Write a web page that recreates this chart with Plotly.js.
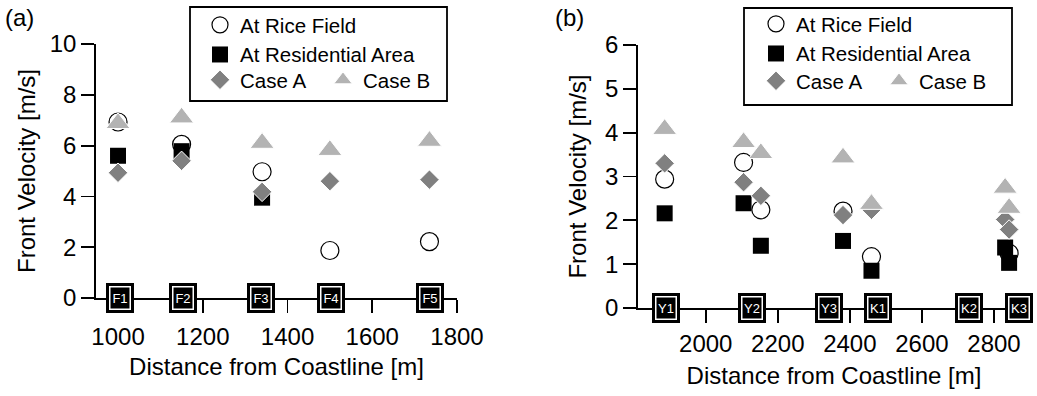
<!DOCTYPE html>
<html><head><meta charset="utf-8">
<script src="https://cdn.plot.ly/plotly-3.0.1.min.js"></script>
<style>html,body{margin:0;padding:0;background:#fff}#chart{width:1037px;height:396px}</style>
</head><body><div id="chart"></div>
<script>
// ---- Panel (a) data ----
const distA   = [1000, 1150, 1340, 1500, 1735];
const riceA   = [6.93, 6.05, 4.97, 1.87, 2.22];
const resA    = [5.60, 5.78, 3.95, null, null];
const caseA_A = [4.93, 5.40, 4.18, 4.60, 4.66];
const caseB_A = [6.88, 7.10, 6.10, 5.82, 6.18];
const siteNamesA = ['F1', 'F2', 'F3', 'F4', 'F5'];
const sitePosA   = [1005, 1153, 1337, 1503, 1737];

// ---- Panel (b) data ----
const distB   = [1886, 2105, 2153, 2381, 2460, 2831, 2842];
const riceB   = [2.94, 3.32, 2.24, 2.21, 1.17, null, 1.25];
const resB    = [2.16, 2.39, 1.42, 1.53, 0.85, 1.38, 1.03];
const caseA_B = [3.30, 2.87, 2.56, 2.12, 2.24, 2.02, 1.79];
const caseB_B = [4.08, 3.78, 3.53, 3.43, 2.37, 2.74, 2.28];
const siteNamesB = ['Y1', 'Y2', 'Y3', 'K1', 'K2', 'K3'];
const sitePosB   = [1890, 2128, 2343, 2477, 2731, 2870];

const FONT = 'Liberation Sans, Arial, Helvetica, sans-serif';

const styles = {
  rice: {symbol: 'circle', color: '#ffffff', line: {color: '#000000', width: 1.2}, size: 18},
  res:  {symbol: 'square', color: '#000000', line: {color: '#000000', width: 0}, size: 16},
  cA:   {symbol: 'diamond', color: '#808080', line: {color: '#ffffff', width: 1}, size: 15},
  cB:   {symbol: 'triangle-up', color: '#b3b3b3', line: {color: '#ffffff', width: 1}, size: 21}
};

function tr(name, x, y, st, xa, ya, leg) {
  return {type: 'scatter', mode: 'markers', name: name, x: x, y: y,
    xaxis: xa, yaxis: ya, legend: leg, marker: st, cliponaxis: false, hoverinfo: 'x+y'};
}

const data = [
  tr('At Rice Field', distA, riceA, styles.rice, 'x', 'y', 'legend'),
  tr('At Residential Area', distA, resA, styles.res, 'x', 'y', 'legend'),
  tr('Case A', distA, caseA_A, styles.cA, 'x', 'y', 'legend2'),
  tr('Case B', distA, caseB_A, styles.cB, 'x', 'y', 'legend2'),
  tr('At Rice Field', distB, riceB, styles.rice, 'x2', 'y2', 'legend3'),
  tr('At Residential Area', distB, resB, styles.res, 'x2', 'y2', 'legend3'),
  tr('Case A', distB, caseA_B, styles.cA, 'x2', 'y2', 'legend4'),
  tr('Case B', distB, caseB_B, styles.cB, 'x2', 'y2', 'legend4')
];

function axis(extra) {
  return Object.assign({
    showline: true, linecolor: '#000', linewidth: 1.8,
    ticks: 'outside', ticklen: 13, tickwidth: 1.8, tickcolor: '#000',
    showgrid: false, zeroline: false, automargin: false,
    tickfont: {family: FONT, size: 24, color: '#000'}
  }, extra);
}

const annotations = [];
function addSites(names, pos, xa, ya) {
  names.forEach((n, i) => {
    annotations.push({x: pos[i], y: 0, xref: xa, yref: ya, text: '\u00a0', showarrow: false,
      width: 24, height: 26, bgcolor: '#000', bordercolor: '#000', borderwidth: 2, borderpad: 0,
      font: {size: 10, color: '#000'}});
    annotations.push({x: pos[i], y: 0, xref: xa, yref: ya, text: n, showarrow: false,
      width: 19, height: 21, bgcolor: '#000', bordercolor: '#fff', borderwidth: 1.5, borderpad: 0,
      font: {family: FONT, size: 13, color: '#fff'}});
  });
}
addSites(siteNamesA, sitePosA, 'x', 'y');
addSites(siteNamesB, sitePosB, 'x2', 'y2');
annotations.push({xref: 'paper', yref: 'paper', x: 3/1037, y: 1 - 2/396, xanchor: 'left', yanchor: 'top',
  text: '(a)', showarrow: false, font: {family: FONT, size: 24, color: '#000'}});
annotations.push({xref: 'paper', yref: 'paper', x: 553/1037, y: 1 - 2/396, xanchor: 'left', yanchor: 'top',
  text: '(b)', showarrow: false, font: {family: FONT, size: 24, color: '#000'}});

const legFont = {family: FONT, size: 20.5, color: '#000'};
function legV(xpx, ypx) {
  return {x: xpx/1037, y: 1 - ypx/396, xanchor: 'left', yanchor: 'top', orientation: 'v',
    bgcolor: 'rgba(0,0,0,0)', borderwidth: 0, font: legFont, tracegroupgap: 0, itemclick: false};
}
function legH(xpx, ypx) {
  return {x: xpx/1037, y: 1 - ypx/396, xanchor: 'left', yanchor: 'top', orientation: 'h',
    entrywidth: 78, entrywidthmode: 'pixels',
    bgcolor: 'rgba(0,0,0,0)', borderwidth: 0, font: legFont, itemclick: false};
}

const layout = {
  width: 1037, height: 396,
  margin: {l: 0, r: 0, t: 0, b: 0},
  paper_bgcolor: '#fff', plot_bgcolor: '#fff',
  font: {family: FONT, color: '#000'},
  showlegend: true,
  xaxis: axis({domain: [96/1037, 457/1037], range: [948, 1800], dtick: 200, tick0: 0, anchor: 'y',
    ticklabelstandoff: 3,
    title: {text: 'Distance from Coastline [m]', font: {family: FONT, size: 24}, standoff: 10}}),
  yaxis: axis({domain: [98/396, 352/396], range: [0, 10], dtick: 2, anchor: 'x',
    title: {text: 'Front Velocity [m/s]', font: {family: FONT, size: 24}, standoff: 7}}),
  xaxis2: axis({domain: [638/1037, 1030/1037], range: [1812, 2900], dtick: 200, tick0: 0, anchor: 'y2',
    ticklabelstandoff: 0,
    title: {text: 'Distance from Coastline [m]', font: {family: FONT, size: 24}, standoff: 12}}),
  yaxis2: axis({domain: [88/396, 351/396], range: [0, 6], dtick: 1, anchor: 'x2',
    title: {text: 'Front Velocity [m/s]', font: {family: FONT, size: 24}, standoff: 12}}),
  legend: legV(200, 5),
  legend2: legH(200, 60),
  legend3: legV(756, 4),
  legend4: legH(756, 61),
  shapes: [
    {type: 'rect', xref: 'paper', yref: 'paper', x0: 190/1037, x1: 447/1037, y0: 1 - 101/396, y1: 1 - 7/396,
      line: {color: '#000', width: 1.8}, fillcolor: 'rgba(0,0,0,0)'},
    {type: 'rect', xref: 'paper', yref: 'paper', x0: 744/1037, x1: 1012/1037, y0: 1 - 105/396, y1: 1 - 8/396,
      line: {color: '#000', width: 1.8}, fillcolor: 'rgba(0,0,0,0)'}
  ],
  annotations: annotations
};

Plotly.newPlot('chart', data, layout, {displayModeBar: false, staticPlot: true});
</script>
</body></html>
